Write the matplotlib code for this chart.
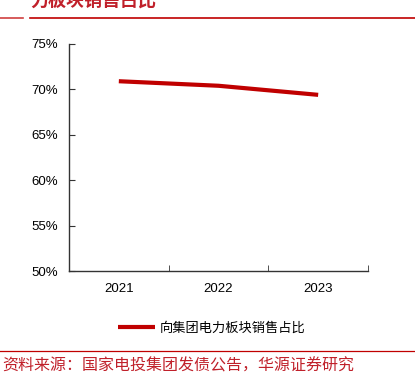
import numpy as np
import matplotlib.pyplot as plt
from matplotlib.ticker import FuncFormatter

years = ['2021', '2022', '2023']
share = [70.9, 70.4, 69.4]
series_name = '向集团电力板块销售占比'
title = '力板块销售占比'
source = '资料来源：国家电投集团发债公告，华源证券研究'

red = '#c00000'
cjk = ['Noto Sans CJK SC', 'DejaVu Sans']

plt.rcParams['font.family'] = ['Liberation Sans', 'Noto Sans CJK SC']

fig = plt.figure(figsize=(4.15, 3.84), dpi=100)
W, H = 415, 384
ax = fig.add_axes([69 / W, 1 - 271 / H, (368 - 69) / W, (271 - 44) / H])

x = np.arange(len(years))
ax.plot(x, share, color=red, lw=3, solid_capstyle='butt', label=series_name)
ax.set_xlim(-0.5, len(years) - 0.5)
ax.set_ylim(50, 75)
ax.set_yticks(np.arange(50, 76, 5))
ax.yaxis.set_major_formatter(FuncFormatter(lambda v, p: f'{v:.0f}%'))
ax.set_xticks(x)
ax.set_xticklabels(years)
ax.set_xticks(np.arange(-0.5, len(years)), minor=True)
ax.tick_params(axis='x', which='major', length=0, pad=9, labelsize=9.5)
ax.tick_params(axis='x', which='minor', length=4, direction='in', color='#333333')
ax.tick_params(axis='y', length=4, direction='in', color='#333333', labelsize=9.5, pad=8)
for s in ['top', 'right']:
    ax.spines[s].set_visible(False)
for s in ['left', 'bottom']:
    ax.spines[s].set_color('#333333')
    ax.spines[s].set_linewidth(1.0)

leg = fig.legend(loc='center', bbox_to_anchor=(0.51, 1 - 328 / H), frameon=False,
                 handlelength=2.8, handletextpad=0.3, prop={'family': cjk, 'size': 9.5})

# red rules and header/footer text
fig.add_artist(plt.Line2D([0, 23 / W], [1 - 18 / H] * 2, color='#d04040', lw=1.2))
fig.add_artist(plt.Line2D([30 / W, 1], [1 - 18 / H] * 2, color='#c00000', lw=1.2))
fig.add_artist(plt.Line2D([0, 1], [1 - 351 / H] * 2, color='#c00000', lw=0.9))
fig.text(30 / W, 1 - 10 / H, title, color='#c0202a', fontsize=13, fontweight='bold',
         family=cjk, va='bottom', ha='left')
fig.text(2 / W, 1 - 366 / H, source, color='#c0202a', fontsize=11.5,
         family=cjk, va='center', ha='left')

fig.savefig('out.png', dpi=100)
